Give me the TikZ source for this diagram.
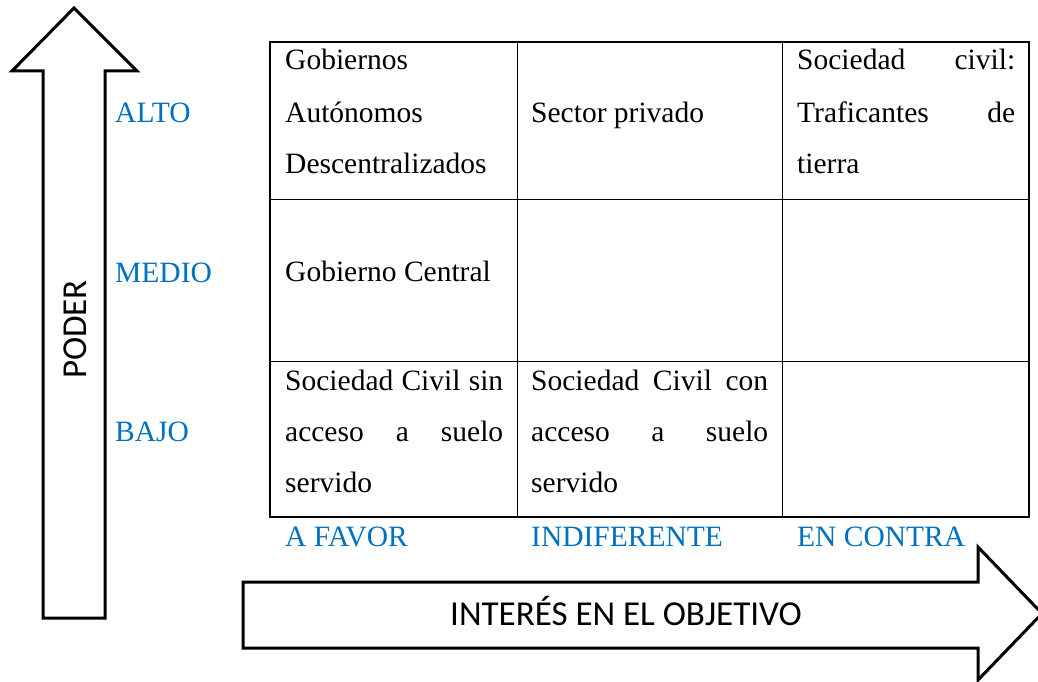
\documentclass[tikz,border=0pt]{standalone}
\usepackage{fontspec}
\setmainfont{Liberation Serif}
\newfontfamily\sansf{Carlito}
\definecolor{lblue}{RGB}{0,112,192}
\begin{document}
\begin{tikzpicture}[x=1pt,y=-1pt,
  cell/.style={anchor=base west,inner sep=0pt,font=\fontsize{29.5}{35}\selectfont},
  lbl/.style={anchor=base west,inner sep=0pt,text=lblue,font=\fontsize{29.5}{35}\selectfont},
  bigarrow/.style={draw=black,line width=3pt,line join=miter,fill=white},
  axis/.style={inner sep=0pt,font=\sansf\fontsize{35}{40}\selectfont}]
\useasboundingbox (0,0) rectangle (1038,682);
% vertical arrow
\draw[bigarrow] (43,618) -- (43,71) -- (12,71) -- (74,8) -- (137,71) -- (105,71) -- (105,618) -- cycle;
\node[axis,rotate=90,anchor=base] (poder) at (86,329.5) {PODER};
% horizontal arrow
\draw[bigarrow] (243,582) -- (978,582) -- (978,547) -- (1042,613.5) -- (978,680) -- (978,648) -- (243,648) -- cycle;
\node[axis,anchor=base] (interes) at (626,625) {INTERÉS EN EL OBJETIVO};
% table
\draw[line width=1pt] (517,42) -- (517,517) (782,42) -- (782,517)
  (270,199) -- (1029,199) (270,361) -- (1029,361);
\draw[line width=2pt] (270,42) rectangle (1029,517);
% row labels
\node[lbl] (alto) at (115,122) {ALTO};
\node[lbl] (medio) at (115,282) {MEDIO};
\node[lbl] (bajo) at (115,441) {BAJO};
% column labels
\node[lbl] (favor) at (285,546) {A FAVOR};
\node[lbl] (indif) at (531,546) {INDIFERENTE};
\node[lbl] (contra) at (797,546) {EN CONTRA};
% cells row 1
\node[cell] (a1) at (285,70) {Gobiernos};
\node[cell] (a2) at (285,122) {Autónomos};
\node[cell] (a3) at (285,173) {Descentralizados};
\node[cell] (b1) at (531,122) {Sector privado};
\node[cell] (c1) at (797,70) {\hbox to 218pt{Sociedad\hfill civil:}};
\node[cell] (c2) at (797,122) {\hbox to 218pt{Traficantes\hfill de}};
\node[cell] (c3) at (797,173) {tierra};
% row 2
\node[cell] (d1) at (285,281) {Gobierno Central};
% row 3
\node[cell] (e1) at (285,390) {\hbox to 218pt{Sociedad\hfill Civil\hfill sin}};
\node[cell] (e2) at (285,441) {\hbox to 218pt{acceso\hfill a\hfill suelo}};
\node[cell] (e3) at (285,492) {servido};
\node[cell] (f1) at (531,390) {\hbox to 237pt{Sociedad\hfill Civil\hfill con}};
\node[cell] (f2) at (531,441) {\hbox to 237pt{acceso\hfill a\hfill suelo}};
\node[cell] (f3) at (531,492) {servido};
\end{tikzpicture}
\end{document}
